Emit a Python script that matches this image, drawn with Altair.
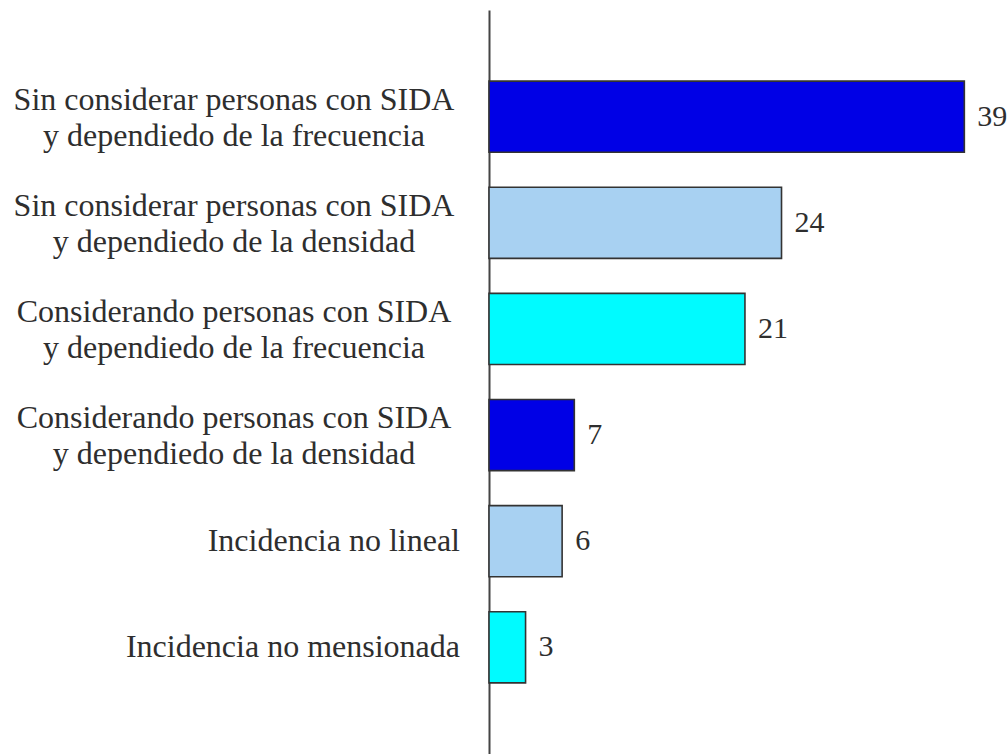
import altair as alt
import pandas as pd

categories = [
    "Sin considerar personas con SIDA\ny dependiedo de la frecuencia",
    "Sin considerar personas con SIDA\ny dependiedo de la densidad",
    "Considerando personas con SIDA\ny dependiedo de la frecuencia",
    "Considerando personas con SIDA\ny dependiedo de la densidad",
    "Incidencia no lineal",
    "Incidencia no mensionada",
]
values = [39, 24, 21, 7, 6, 3]
colors = ["#0000e6", "#a8d1f2", "#00fbff", "#0000e6", "#a8d1f2", "#00fbff"]

df = pd.DataFrame({"cat": categories, "val": values, "color": colors})

FONT = "Liberation Serif"
TXT = "#2e2e2e"

y = alt.Y("cat:N", sort=categories,
          scale=alt.Scale(paddingInner=0.33, paddingOuter=0.67),
          axis=alt.Axis(labels=False, ticks=False, title=None, domain=True,
                        domainColor="#444444", domainWidth=2, grid=False))
x = alt.X("val:Q", scale=alt.Scale(domain=[0, 42.5], nice=False, zero=True),
          axis=None)

base = alt.Chart(df)

bars = base.mark_bar(stroke="#333333", strokeWidth=1.6).encode(
    x=x, y=y, color=alt.Color("color:N", scale=None)
)

vals = base.mark_text(align="left", baseline="alphabetic", dx=13, dy=9,
                      font=FONT, fontSize=30, color=TXT).encode(
    x=x, y=y, text="val:Q"
)

two_line = base.transform_filter("indexof(datum.cat, '\\n') >= 0").mark_text(
    align="center", baseline="alphabetic", lineBreak="\n", lineHeight=36,
    dy=-7, font=FONT, fontSize=32, color=TXT
).encode(x=alt.value(-255), y=y, text="cat:N")

one_line = base.transform_filter("indexof(datum.cat, '\\n') < 0").mark_text(
    align="right", baseline="alphabetic", dy=10, font=FONT, fontSize=32, color=TXT
).encode(x=alt.value(-29), y=y, text="cat:N")

chart = alt.layer(bars, vals, two_line, one_line).properties(
    width=518, height=744,
    background="white",
    autosize=alt.AutoSizeParams(type="none"),
    padding={"left": 489, "top": 10, "right": 0, "bottom": 0},
).configure_view(stroke=None)

chart.save("out.html", embed_options={"renderer": "svg", "actions": False})
